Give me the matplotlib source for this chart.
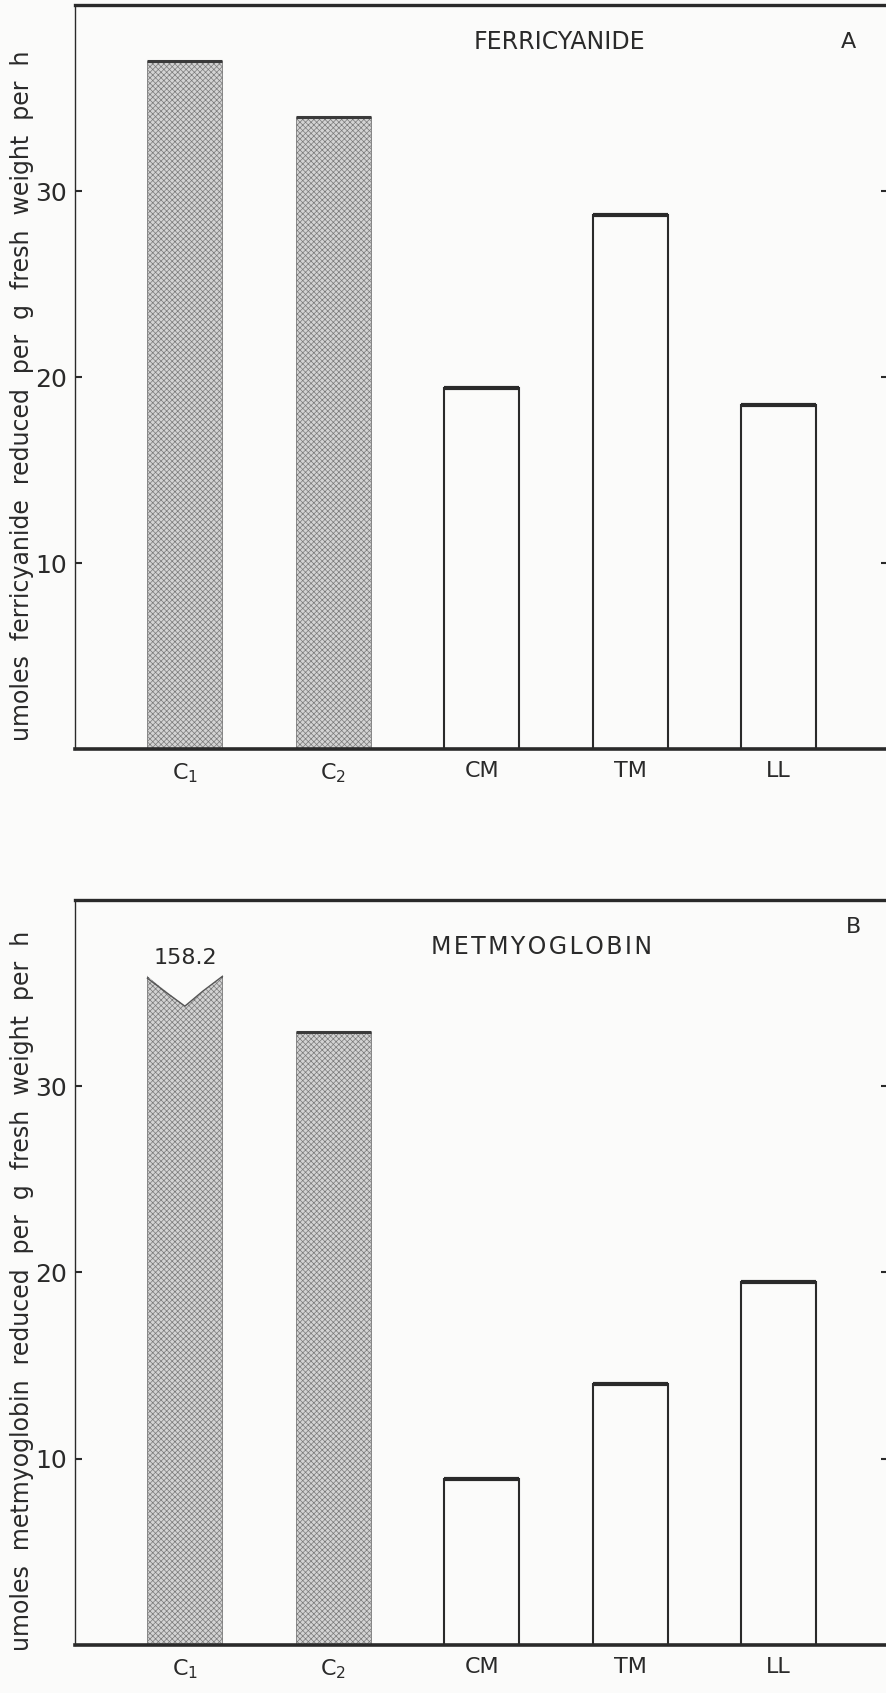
import numpy as np
import matplotlib.pyplot as plt
from matplotlib.patches import Polygon

# data
categories = [r"C$_1$", r"C$_2$", "CM", "TM", "LL"]
ferricyanide = [37.0, 34.0, 19.4, 28.7, 18.5]
metmyoglobin = [158.2, 32.9, 8.9, 14.0, 19.5]
shaded = [True, True, False, False, False]
y_ticks = [10, 20, 30]
break_at = 35.9  # metmyoglobin C1 bar is cut here

paper = "#fbfbfa"
ink = "#2a2a2a"
plt.rcParams["hatch.color"] = "#8e8e8e"
plt.rcParams["hatch.linewidth"] = 0.5

fig = plt.figure(figsize=(8.86, 16.93), dpi=100, facecolor=paper)


def draw_panel(ax, values, ylabel, title, letter, cap=None):
    """
    Draws one bar panel in the style of the scanned figure
    """
    ax.set_facecolor(paper)
    x = np.arange(len(values))
    width = 0.505
    heights = [min(v, cap) if cap else v for v in values]

    for xi, h, s in zip(x, heights, shaded):
        if s:
            ax.bar(xi, h, width, color="#d3d3d3", hatch="xxxxxx",
                   edgecolor="#7a7a7a", linewidth=0.6, zorder=2)
            ax.hlines(h, xi - width / 2, xi + width / 2, color="#3a3a3a", lw=2.2, zorder=3)
        else:
            ax.bar(xi, h, width, color=paper, edgecolor=ink, linewidth=1.5, zorder=2)
            ax.hlines(h, xi - width / 2, xi + width / 2, color=ink, lw=3, zorder=3)

    # broken bar: cut a notch out of the top and label the real value
    if cap:
        for xi, v, h in zip(x, values, heights):
            if v > cap:
                x0, x1 = xi - width / 2, xi + width / 2
                notch = Polygon([(x0 - 0.01, h + 0.2), (x0, h), (xi, h - 1.6),
                                 (x1, h), (x1 + 0.01, h + 0.2)],
                                closed=True, facecolor=paper, edgecolor="none", zorder=4)
                ax.add_patch(notch)
                ax.plot([x0, xi - 0.12, xi, xi + 0.12, x1],
                        [h - 0.1, h - 0.9, h - 1.6, h - 0.8, h],
                        color="#555555", lw=1.0, zorder=5)
                ax.text(xi, h + 0.45, f"{v:.1f}", ha="center", va="bottom",
                        fontsize=16, color=ink)

    ax.set_xlim(-0.74, 4.74)
    ax.set_ylim(0, 40)
    ax.set_xticks(x)
    ax.set_xticklabels(categories, fontsize=16, color=ink)
    ax.tick_params(axis="x", length=0, pad=9)
    ax.set_yticks(y_ticks)
    ax.set_yticklabels([str(t) for t in y_ticks], fontsize=18, color=ink)
    ax.tick_params(axis="y", direction="in", length=5, width=1.5,
                   left=True, right=True, pad=6, colors=ink)

    for side, lw in [("top", 2.4), ("bottom", 2.6), ("left", 1.0), ("right", 1.0)]:
        ax.spines[side].set_linewidth(lw)
        ax.spines[side].set_color(ink)

    ax.set_ylabel(ylabel, fontsize=17, color=ink)
    ax.yaxis.set_label_coords(-0.05, 0.475)

    ax.text(title[1], title[2], title[0], transform=ax.transAxes,
            ha="center", va="center", fontsize=17, color=ink)
    ax.text(letter[1], letter[2], letter[0], transform=ax.transAxes,
            ha="center", va="center", fontsize=16, color=ink)


ax_a = fig.add_axes([0.0847, 0.5576, 0.918, 0.4394])
draw_panel(ax_a, ferricyanide,
           "umoles  ferricyanide  reduced  per  g  fresh  weight  per  h",
           ("FERRICYANIDE", 0.595, 0.950), ("A", 0.951, 0.950))

ax_b = fig.add_axes([0.0847, 0.0284, 0.918, 0.4400])
draw_panel(ax_b, metmyoglobin,
           "umoles  metmyoglobin  reduced  per  g  fresh  weight  per  h",
           ("M E T M Y O G L O B I N".replace(" ", "\u200a"), 0.574, 0.937), ("B", 0.957, 0.964), cap=break_at)

fig.savefig("out.png", dpi=100, facecolor=paper)
